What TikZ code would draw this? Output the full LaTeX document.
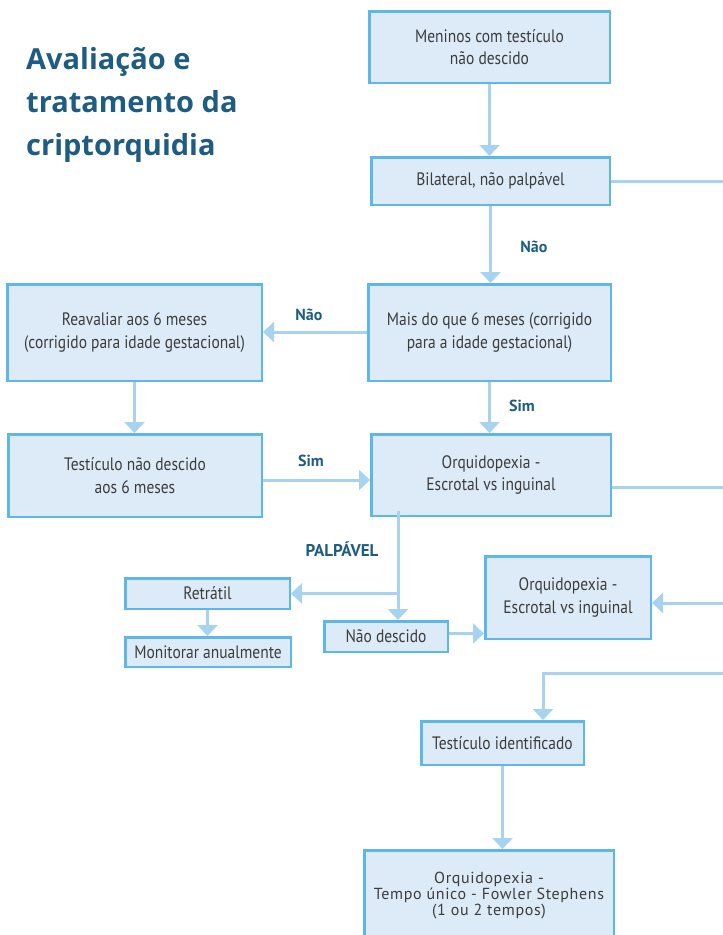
\documentclass[tikz,border=0pt]{standalone}
\usepackage{fontspec}
\setmainfont{PT Sans}
\newfontfamily\boxfont[FakeStretch=0.86]{PT Sans}
\newfontfamily\widefont[LetterSpace=4]{PT Sans}
\newfontfamily\headfont{Open Sans}
\usetikzlibrary{arrows.meta}

\definecolor{boxfill}{HTML}{DDEBF8}
\definecolor{boxline}{HTML}{5DB7E8}
\definecolor{wirecol}{HTML}{A7D3F1}
\definecolor{ink}{HTML}{3C3C3C}
\definecolor{heading}{HTML}{1F5C82}

\tikzset{
  box/.style={draw=boxline, line width=2.5pt, fill=boxfill, text=ink,
    align=center, inner sep=0pt, font=\boxfont\fontsize{18}{22.5}\selectfont},
  wire/.style={draw=wirecol, line width=3pt},
  flow/.style={wire, -{Triangle[width=20pt,length=11pt]}},
  tag/.style={text=heading, font=\bfseries\fontsize{16}{19}\selectfont, inner sep=0pt},
  headline/.style={text=heading, font=\headfont\bfseries\fontsize{29}{43}\selectfont,
    anchor=base west, inner sep=0pt},
}

\begin{document}
\begin{tikzpicture}[x=1pt,y=-1pt]
\useasboundingbox (0,0) rectangle (723,935);
\clip (0,0) rectangle (723,935);
\coordinate (rim) at (740,0);

% heading
\node[headline] (h1) at (26,69)  {Avaliação e};
\node[headline] (h2) at (26,112) {tratamento da};
\node[headline] (h3) at (26,155) {criptorquidia};

% boxes
\node[box, minimum width=240.5, minimum height=71.5] (meninos) at (489.5,47)
  {Meninos com testículo\\não descido};
\node[box, minimum width=238.5, minimum height=47.5] (bilat) at (490.5,181)
  {Bilateral, não palpável};
\node[box, minimum width=242.5, minimum height=96.5] (mais) at (489.5,332.5)
  {Mais do que 6 meses (corrigido\\para a idade gestacional)};
\node[box, minimum width=254.5, minimum height=96.5] (reav) at (134.5,332.5)
  {Reavaliar aos 6 meses\\(corrigido para idade gestacional)};
\node[box, minimum width=253.5, minimum height=82.5] (tnd) at (135,475.5)
  {Testículo não descido\\aos 6 meses};
\node[box, minimum width=239.5, minimum height=81.5] (orq1) at (491,475)
  {Orquidopexia -\\Escrotal vs inguinal};
\node[box, minimum width=164.5, minimum height=30.5] (retr) at (207.5,593.5)
  {Retrátil};
\node[box, minimum width=165.5, minimum height=29.5] (monit) at (208,652)
  {Monitorar anualmente};
\node[box, minimum width=123.5, minimum height=30.5] (naodesc) at (386,636.5)
  {Não descido};
\node[box, minimum width=165.5, minimum height=82.5] (orq2) at (568,597.5)
  {Orquidopexia -\\Escrotal vs inguinal};
\node[box, minimum width=162.5, minimum height=43.5] (tident) at (502.5,743)
  {Testículo identificado};
\node[box, minimum width=249.5, minimum height=93.5] (final) at (489,897) {};
\node[text=ink, align=center, inner sep=0pt,
      font=\widefont\fontsize{16}{16}\selectfont] (finaltext) at (489,895.5)
  {Orquidopexia -\\Tempo único - Fowler Stephens\\(1 ou 2 tempos)};

% branch labels
\node[tag] (lnao1) at (534,247) {Não};
\node[tag] (lnao2) at (309,315) {Não};
\node[tag] (lsim1) at (522,406) {Sim};
\node[tag] (lsim2) at (311,461) {Sim};
\node[tag, font=\bfseries\fontsize{17}{19}\selectfont] (lpalp) at (342,549) {PALPÁVEL};

% connectors
\draw[flow] (meninos.south) -- (meninos.south |- bilat.north);
\draw[flow] (bilat.south) -- (bilat.south |- mais.north);
\draw[wire] (bilat.east) -- (bilat.east -| rim);
\draw[flow] ([yshift=0.5pt]mais.west) -- ([yshift=0.5pt]mais.west -| reav.east);
\draw[flow] (reav.south) -- (reav.south |- tnd.north);
\draw[flow] ([yshift=-4.5pt]tnd.east) -- ([yshift=-4.5pt]tnd.east -| orq1.west);
\draw[flow] (mais.south) -- (mais.south |- orq1.north);
\draw[wire] ([yshift=-12pt]orq1.east) -- ([yshift=-12pt]orq1.east -| rim);

\coordinate (palp) at (398,511);
\draw[flow] (palp) -- (palp |- naodesc.north);
\draw[flow] (palp |- retr.east) -- (retr.east);
\draw[flow] (retr.south) -- (retr.south |- monit.north);
\draw[flow] ([yshift=3pt]naodesc.east) -- ([yshift=3pt]naodesc.east -| orq2.west);
\draw[flow] ([yshift=-5.5pt]orq2.east -| rim) -- ([yshift=-5.5pt]orq2.east);

\coordinate (turn) at (543,673);
\draw[flow] (turn -| rim) -- (turn) -- (turn |- tident.north);
\draw[flow] (tident.south) -- (tident.south |- final.north);
\end{tikzpicture}
\end{document}
